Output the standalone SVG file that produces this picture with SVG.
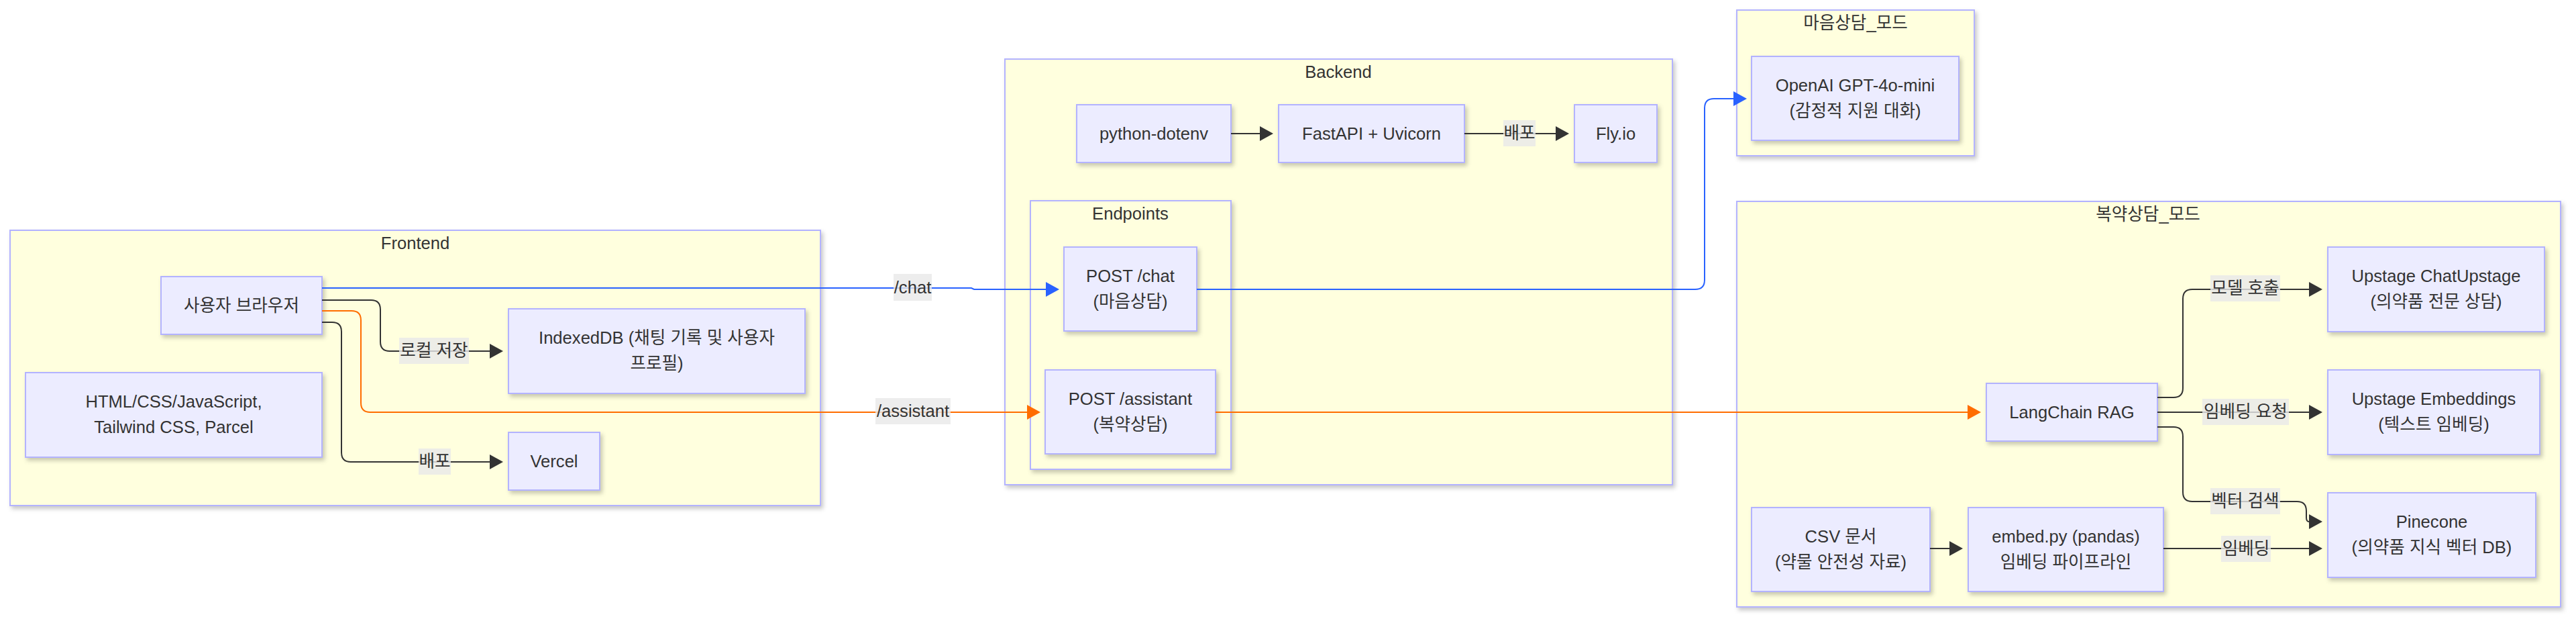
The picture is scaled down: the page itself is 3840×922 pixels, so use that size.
<svg xmlns="http://www.w3.org/2000/svg" width="3840" height="922" viewBox="0 0 3840 922">
<defs>
<style>
.cl{fill:#ffffde;stroke:#b3b3ff;stroke-width:2;filter:url(#sh)}
.nd{fill:#ececff;stroke:#b3b3ff;stroke-width:2;filter:url(#sh)}
text{font-family:"Liberation Sans",Arial,"Noto Sans CJK KR",sans-serif;font-size:25.6px;fill:#333;text-anchor:middle}
.e{fill:none;stroke:#333;stroke-width:2}
.eb{fill:none;stroke:#2962ff;stroke-width:2}
.eo{fill:none;stroke:#ff6d00;stroke-width:2}
.lb{fill:#e8e8e8;fill-opacity:0.8}
</style>
<filter id="sh" x="-5%" y="-5%" width="115%" height="120%">
<feDropShadow dx="3" dy="4" stdDeviation="3" flood-color="#000" flood-opacity="0.22"/>
</filter>
<marker id="ak" markerUnits="userSpaceOnUse" markerWidth="20" markerHeight="22" viewBox="0 0 20 22" refX="0" refY="11" orient="auto"><path d="M0,0 L20,11 L0,22 z" fill="#333"/></marker>
<marker id="ab" markerUnits="userSpaceOnUse" markerWidth="20" markerHeight="22" viewBox="0 0 20 22" refX="0" refY="11" orient="auto"><path d="M0,0 L20,11 L0,22 z" fill="#2962ff"/></marker>
<marker id="ao" markerUnits="userSpaceOnUse" markerWidth="20" markerHeight="22" viewBox="0 0 20 22" refX="0" refY="11" orient="auto"><path d="M0,0 L20,11 L0,22 z" fill="#ff6d00"/></marker>
</defs>
<rect width="3840" height="922" fill="#ffffff"/>

<g id="cluster-frontend"><rect class="cl" x="15" y="343" width="1208" height="410"/><text x="619" y="371">Frontend</text></g>
<g id="cluster-backend"><rect class="cl" x="1498" y="88" width="995" height="634"/><text x="1995" y="116">Backend</text></g>
<g id="cluster-endpoints"><rect class="cl" x="1536" y="299" width="299" height="400"/><text x="1685" y="327">Endpoints</text></g>
<g id="cluster-maum"><rect class="cl" x="2589" y="15" width="354" height="217"/><text x="2766" y="43">마음상담_모드</text></g>
<g id="cluster-bokyak"><rect class="cl" x="2589" y="300" width="1228" height="604"/><text x="3202" y="328">복약상담_모드</text></g>

<g id="node-browser"><rect class="nd" x="240" y="412" width="240" height="86"/><text x="360" y="464">사용자 브라우저</text></g>
<g id="node-indexeddb"><rect class="nd" x="758" y="460" width="442" height="126"/><text x="979" y="512">IndexedDB (채팅 기록 및 사용자</text><text x="979" y="550">프로필)</text></g>
<g id="node-html"><rect class="nd" x="38" y="555" width="442" height="126"/><text x="259" y="607">HTML/CSS/JavaScript,</text><text x="259" y="645">Tailwind CSS, Parcel</text></g>
<g id="node-vercel"><rect class="nd" x="758" y="644" width="136" height="86"/><text x="826" y="696">Vercel</text></g>
<g id="node-dotenv"><rect class="nd" x="1605" y="156" width="230" height="86"/><text x="1720" y="208">python-dotenv</text></g>
<g id="node-fastapi"><rect class="nd" x="1906" y="156" width="277" height="86"/><text x="2044.5" y="208">FastAPI + Uvicorn</text></g>
<g id="node-fly"><rect class="nd" x="2347" y="156" width="123" height="86"/><text x="2408.5" y="208">Fly.io</text></g>
<g id="node-chat"><rect class="nd" x="1586" y="368" width="198" height="125"/><text x="1685" y="420">POST /chat</text><text x="1685" y="458">(마음상담)</text></g>
<g id="node-assistant"><rect class="nd" x="1558" y="551" width="254" height="125"/><text x="1685" y="603">POST /assistant</text><text x="1685" y="641">(복약상담)</text></g>
<g id="node-openai"><rect class="nd" x="2611" y="84" width="309" height="125"/><text x="2765.5" y="136">OpenAI GPT-4o-mini</text><text x="2765.5" y="174">(감정적 지원 대화)</text></g>
<g id="node-chatupstage"><rect class="nd" x="3470" y="368" width="323" height="126"/><text x="3631.5" y="420">Upstage ChatUpstage</text><text x="3631.5" y="458">(의약품 전문 상담)</text></g>
<g id="node-embeddings"><rect class="nd" x="3470" y="551" width="316" height="126"/><text x="3628" y="603">Upstage Embeddings</text><text x="3628" y="641">(텍스트 임베딩)</text></g>
<g id="node-pinecone"><rect class="nd" x="3470" y="734" width="310" height="126"/><text x="3625" y="786">Pinecone</text><text x="3625" y="824">(의약품 지식 벡터 DB)</text></g>
<g id="node-langchain"><rect class="nd" x="2961" y="571" width="255" height="86"/><text x="3088.5" y="623">LangChain RAG</text></g>
<g id="node-csv"><rect class="nd" x="2611" y="756" width="266" height="125"/><text x="2744" y="808">CSV 문서</text><text x="2744" y="846">(약물 안전성 자료)</text></g>
<g id="node-embedpy"><rect class="nd" x="2934" y="756" width="291" height="125"/><text x="3079.5" y="808">embed.py (pandas)</text><text x="3079.5" y="846">임베딩 파이프라인</text></g>

<g id="connectors">
<path class="e" d="M480,447 L553,447 Q567,447 567,461 L567,509 Q567,523 581,523 L730,523" marker-end="url(#ak)"/>
<rect class="lb" x="595" y="503" width="104" height="39"/><text x="647" y="531">로컬 저장</text>

<path class="e" d="M480,480 L495,480 Q509,480 509,494 L509,674 Q509,688 523,688 L730,688" marker-end="url(#ak)"/>
<rect class="lb" x="624" y="668" width="48" height="39"/><text x="648" y="696">배포</text>

<path class="e" d="M1835,199 L1878,199" marker-end="url(#ak)"/>
<path class="e" d="M2183,199 L2319,199" marker-end="url(#ak)"/>
<rect class="lb" x="2241" y="179" width="48" height="39"/><text x="2265" y="207">배포</text>

<path class="e" d="M3216,592 L3240,592 Q3254,592 3254,578 L3254,445 Q3254,431 3268,431 L3442,431" marker-end="url(#ak)"/>
<rect class="lb" x="3295" y="410" width="104" height="39"/><text x="3347" y="438">모델 호출</text>

<path class="e" d="M3216,614 L3442,614" marker-end="url(#ak)"/>
<rect class="lb" x="3283" y="594" width="129" height="39"/><text x="3347.5" y="622">임베딩 요청</text>

<path class="e" d="M3216,636 L3240,636 Q3254,636 3254,650 L3254,733 Q3254,747 3268,747 L3424,747 Q3438,747 3438,761 L3438,771 Q3438,777 3442,777" marker-end="url(#ak)"/>
<rect class="lb" x="3295" y="727" width="104" height="39"/><text x="3347" y="755">벡터 검색</text>

<path class="e" d="M2877,817 L2906,817" marker-end="url(#ak)"/>
<path class="e" d="M3225,817 L3442,817" marker-end="url(#ak)"/>
<rect class="lb" x="3311" y="798" width="74" height="39"/><text x="3348" y="826">임베딩</text>

<path class="eb" d="M480,429 L1448,429 L1452,431 L1559,431" marker-end="url(#ab)"/>
<rect class="lb" x="1332" y="408" width="57" height="40"/><text x="1360.5" y="437">/chat</text>
<path class="eb" d="M1784,431 L2527,431 Q2541,431 2541,417 L2541,161 Q2541,147 2555,147 L2584,147" marker-end="url(#ab)"/>

<path class="eo" d="M480,463 L524,463 Q538,463 538,477 L538,600 Q538,614 552,614 L1531,614" marker-end="url(#ao)"/>
<rect class="lb" x="1305" y="593" width="112" height="39"/><text x="1361" y="621">/assistant</text>
<path class="eo" d="M1812,614 L2933,614" marker-end="url(#ao)"/>
</g>
</svg>
